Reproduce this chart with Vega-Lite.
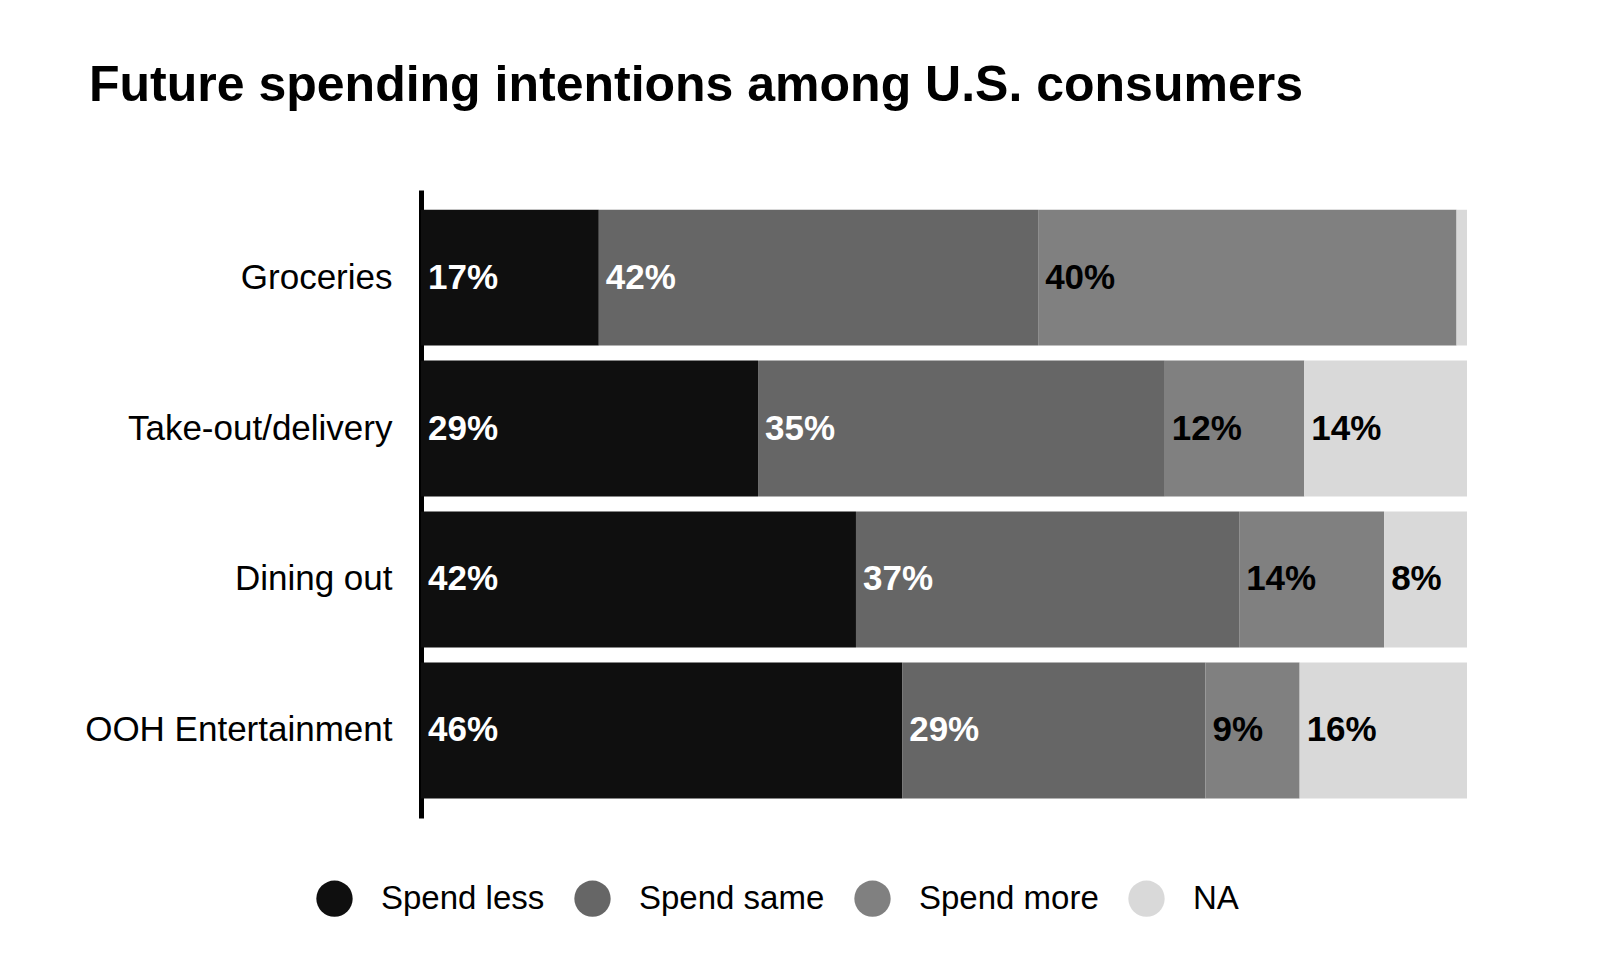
{
  "$schema": "https://vega.github.io/schema/vega-lite/v6.json",
  "width": 1046,
  "height": 628,
  "autosize": {"type": "none"},
  "padding": {"left": 421, "top": 190, "right": 133, "bottom": 160},
  "background": "white",
  "title": {
    "text": "Future spending intentions among U.S. consumers",
    "anchor": "start",
    "frame": "group",
    "font": "Liberation Sans",
    "fontSize": 50,
    "fontWeight": "bold",
    "color": "#000000",
    "dx": -332,
    "offset": 79
  },
  "config": {"view": {"stroke": null}},
  "data": {
    "values": [
      {"category": "Groceries", "response": "Spend less", "k": 1, "value": 17, "label": "17%"},
      {"category": "Groceries", "response": "Spend same", "k": 2, "value": 42, "label": "42%"},
      {"category": "Groceries", "response": "Spend more", "k": 3, "value": 40, "label": "40%"},
      {"category": "Groceries", "response": "NA", "k": 4, "value": 1, "label": "1%"},
      {"category": "Take-out/delivery", "response": "Spend less", "k": 1, "value": 29, "label": "29%"},
      {"category": "Take-out/delivery", "response": "Spend same", "k": 2, "value": 35, "label": "35%"},
      {"category": "Take-out/delivery", "response": "Spend more", "k": 3, "value": 12, "label": "12%"},
      {"category": "Take-out/delivery", "response": "NA", "k": 4, "value": 14, "label": "14%"},
      {"category": "Dining out", "response": "Spend less", "k": 1, "value": 42, "label": "42%"},
      {"category": "Dining out", "response": "Spend same", "k": 2, "value": 37, "label": "37%"},
      {"category": "Dining out", "response": "Spend more", "k": 3, "value": 14, "label": "14%"},
      {"category": "Dining out", "response": "NA", "k": 4, "value": 8, "label": "8%"},
      {"category": "OOH Entertainment", "response": "Spend less", "k": 1, "value": 46, "label": "46%"},
      {"category": "OOH Entertainment", "response": "Spend same", "k": 2, "value": 29, "label": "29%"},
      {"category": "OOH Entertainment", "response": "Spend more", "k": 3, "value": 9, "label": "9%"},
      {"category": "OOH Entertainment", "response": "NA", "k": 4, "value": 16, "label": "16%"}
    ]
  },
  "transform": [
    {
      "stack": "value",
      "groupby": ["category"],
      "sort": [{"field": "k", "order": "ascending"}],
      "offset": "normalize",
      "as": ["v0", "v1"]
    }
  ],
  "encoding": {
    "y": {
      "field": "category",
      "type": "nominal",
      "sort": ["Groceries", "Take-out/delivery", "Dining out", "OOH Entertainment"],
      "scale": {"paddingInner": 0.1, "paddingOuter": 0.13},
      "axis": {
        "title": null,
        "domain": true,
        "domainColor": "#000000",
        "domainWidth": 5,
        "ticks": false,
        "labelFont": "Liberation Sans",
        "labelFontSize": 35,
        "labelColor": "#000000",
        "labelPadding": 29,
        "labelLimit": 0
      }
    }
  },
  "layer": [
    {
      "mark": {"type": "bar"},
      "encoding": {
        "x": {"field": "v0", "type": "quantitative", "scale": {"domain": [0, 1]}, "axis": null},
        "x2": {"field": "v1"},
        "color": {
          "field": "response",
          "type": "nominal",
          "scale": {
            "domain": ["Spend less", "Spend same", "Spend more", "NA"],
            "range": ["#0f0f0f", "#666666", "#808080", "#d9d9d9"]
          },
          "legend": {
            "title": null,
            "orient": "none",
            "legendX": -105,
            "legendY": 690,
            "direction": "horizontal",
            "symbolType": "circle",
            "symbolSize": 1320,
            "symbolStrokeWidth": 0,
            "labelFont": "Liberation Sans",
            "labelFontSize": 33,
            "labelColor": "#000000",
            "labelOffset": 28,
            "columnPadding": 29,
            "labelLimit": 0
          }
        }
      }
    },
    {
      "transform": [{"filter": "datum.value >= 5"}],
      "mark": {
        "type": "text",
        "align": "left",
        "baseline": "middle",
        "dx": 7,
        "font": "Liberation Sans",
        "fontSize": 35,
        "fontWeight": "bold"
      },
      "encoding": {
        "x": {"field": "v0", "type": "quantitative"},
        "text": {"field": "label"},
        "color": {
          "condition": {"test": "datum.response === 'Spend less' || datum.response === 'Spend same'", "value": "#ffffff"},
          "value": "#000000"
        }
      }
    }
  ]
}
